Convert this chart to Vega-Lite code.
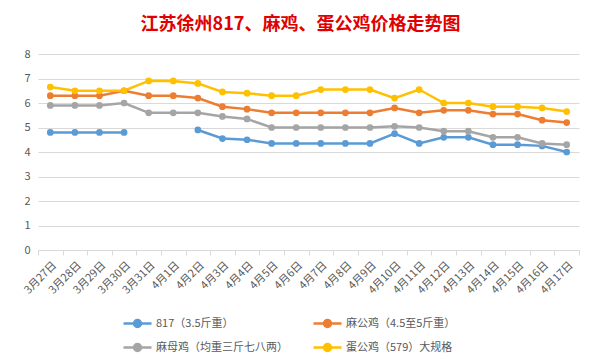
{
  "$schema": "https://vega.github.io/schema/vega-lite/v6.json",
  "width": 541,
  "height": 196,
  "autosize": {"type": "none"},
  "padding": {"left": 38, "top": 54, "right": 21, "bottom": 114},
  "title": {"text": "江苏徐州817、麻鸡、蛋公鸡价格走势图", "fontSize": 18, "fontWeight": "bold", "color": "#e00000", "anchor": "middle", "frame": "group", "offset": 14, "dx": -8, "font": "Noto Sans CJK SC"},
  "config": {"view": {"stroke": null}, "font": "Noto Sans CJK SC"},
  "data": {"values": [
    {"date":"3月27日","series":"817（3.5斤重）","price":4.8},
    {"date":"3月28日","series":"817（3.5斤重）","price":4.8},
    {"date":"3月29日","series":"817（3.5斤重）","price":4.8},
    {"date":"3月30日","series":"817（3.5斤重）","price":4.8},
    {"date":"3月31日","series":"817（3.5斤重）","price":null},
    {"date":"4月1日","series":"817（3.5斤重）","price":null},
    {"date":"4月2日","series":"817（3.5斤重）","price":4.9},
    {"date":"4月3日","series":"817（3.5斤重）","price":4.55},
    {"date":"4月4日","series":"817（3.5斤重）","price":4.5},
    {"date":"4月5日","series":"817（3.5斤重）","price":4.35},
    {"date":"4月6日","series":"817（3.5斤重）","price":4.35},
    {"date":"4月7日","series":"817（3.5斤重）","price":4.35},
    {"date":"4月8日","series":"817（3.5斤重）","price":4.35},
    {"date":"4月9日","series":"817（3.5斤重）","price":4.35},
    {"date":"4月10日","series":"817（3.5斤重）","price":4.75},
    {"date":"4月11日","series":"817（3.5斤重）","price":4.35},
    {"date":"4月12日","series":"817（3.5斤重）","price":4.6},
    {"date":"4月13日","series":"817（3.5斤重）","price":4.6},
    {"date":"4月14日","series":"817（3.5斤重）","price":4.3},
    {"date":"4月15日","series":"817（3.5斤重）","price":4.3},
    {"date":"4月16日","series":"817（3.5斤重）","price":4.25},
    {"date":"4月17日","series":"817（3.5斤重）","price":4.0},
    {"date":"3月27日","series":"麻公鸡（4.5至5斤重）","price":6.3},
    {"date":"3月28日","series":"麻公鸡（4.5至5斤重）","price":6.3},
    {"date":"3月29日","series":"麻公鸡（4.5至5斤重）","price":6.3},
    {"date":"3月30日","series":"麻公鸡（4.5至5斤重）","price":6.5},
    {"date":"3月31日","series":"麻公鸡（4.5至5斤重）","price":6.3},
    {"date":"4月1日","series":"麻公鸡（4.5至5斤重）","price":6.3},
    {"date":"4月2日","series":"麻公鸡（4.5至5斤重）","price":6.2},
    {"date":"4月3日","series":"麻公鸡（4.5至5斤重）","price":5.85},
    {"date":"4月4日","series":"麻公鸡（4.5至5斤重）","price":5.75},
    {"date":"4月5日","series":"麻公鸡（4.5至5斤重）","price":5.6},
    {"date":"4月6日","series":"麻公鸡（4.5至5斤重）","price":5.6},
    {"date":"4月7日","series":"麻公鸡（4.5至5斤重）","price":5.6},
    {"date":"4月8日","series":"麻公鸡（4.5至5斤重）","price":5.6},
    {"date":"4月9日","series":"麻公鸡（4.5至5斤重）","price":5.6},
    {"date":"4月10日","series":"麻公鸡（4.5至5斤重）","price":5.8},
    {"date":"4月11日","series":"麻公鸡（4.5至5斤重）","price":5.6},
    {"date":"4月12日","series":"麻公鸡（4.5至5斤重）","price":5.7},
    {"date":"4月13日","series":"麻公鸡（4.5至5斤重）","price":5.7},
    {"date":"4月14日","series":"麻公鸡（4.5至5斤重）","price":5.55},
    {"date":"4月15日","series":"麻公鸡（4.5至5斤重）","price":5.55},
    {"date":"4月16日","series":"麻公鸡（4.5至5斤重）","price":5.3},
    {"date":"4月17日","series":"麻公鸡（4.5至5斤重）","price":5.2},
    {"date":"3月27日","series":"麻母鸡（均重三斤七八两）","price":5.9},
    {"date":"3月28日","series":"麻母鸡（均重三斤七八两）","price":5.9},
    {"date":"3月29日","series":"麻母鸡（均重三斤七八两）","price":5.9},
    {"date":"3月30日","series":"麻母鸡（均重三斤七八两）","price":6.0},
    {"date":"3月31日","series":"麻母鸡（均重三斤七八两）","price":5.6},
    {"date":"4月1日","series":"麻母鸡（均重三斤七八两）","price":5.6},
    {"date":"4月2日","series":"麻母鸡（均重三斤七八两）","price":5.6},
    {"date":"4月3日","series":"麻母鸡（均重三斤七八两）","price":5.45},
    {"date":"4月4日","series":"麻母鸡（均重三斤七八两）","price":5.35},
    {"date":"4月5日","series":"麻母鸡（均重三斤七八两）","price":5.0},
    {"date":"4月6日","series":"麻母鸡（均重三斤七八两）","price":5.0},
    {"date":"4月7日","series":"麻母鸡（均重三斤七八两）","price":5.0},
    {"date":"4月8日","series":"麻母鸡（均重三斤七八两）","price":5.0},
    {"date":"4月9日","series":"麻母鸡（均重三斤七八两）","price":5.0},
    {"date":"4月10日","series":"麻母鸡（均重三斤七八两）","price":5.05},
    {"date":"4月11日","series":"麻母鸡（均重三斤七八两）","price":5.0},
    {"date":"4月12日","series":"麻母鸡（均重三斤七八两）","price":4.85},
    {"date":"4月13日","series":"麻母鸡（均重三斤七八两）","price":4.85},
    {"date":"4月14日","series":"麻母鸡（均重三斤七八两）","price":4.6},
    {"date":"4月15日","series":"麻母鸡（均重三斤七八两）","price":4.6},
    {"date":"4月16日","series":"麻母鸡（均重三斤七八两）","price":4.35},
    {"date":"4月17日","series":"麻母鸡（均重三斤七八两）","price":4.3},
    {"date":"3月27日","series":"蛋公鸡（579）大规格","price":6.65},
    {"date":"3月28日","series":"蛋公鸡（579）大规格","price":6.5},
    {"date":"3月29日","series":"蛋公鸡（579）大规格","price":6.5},
    {"date":"3月30日","series":"蛋公鸡（579）大规格","price":6.5},
    {"date":"3月31日","series":"蛋公鸡（579）大规格","price":6.9},
    {"date":"4月1日","series":"蛋公鸡（579）大规格","price":6.9},
    {"date":"4月2日","series":"蛋公鸡（579）大规格","price":6.8},
    {"date":"4月3日","series":"蛋公鸡（579）大规格","price":6.45},
    {"date":"4月4日","series":"蛋公鸡（579）大规格","price":6.4},
    {"date":"4月5日","series":"蛋公鸡（579）大规格","price":6.3},
    {"date":"4月6日","series":"蛋公鸡（579）大规格","price":6.3},
    {"date":"4月7日","series":"蛋公鸡（579）大规格","price":6.55},
    {"date":"4月8日","series":"蛋公鸡（579）大规格","price":6.55},
    {"date":"4月9日","series":"蛋公鸡（579）大规格","price":6.55},
    {"date":"4月10日","series":"蛋公鸡（579）大规格","price":6.2},
    {"date":"4月11日","series":"蛋公鸡（579）大规格","price":6.55},
    {"date":"4月12日","series":"蛋公鸡（579）大规格","price":6.0},
    {"date":"4月13日","series":"蛋公鸡（579）大规格","price":6.0},
    {"date":"4月14日","series":"蛋公鸡（579）大规格","price":5.85},
    {"date":"4月15日","series":"蛋公鸡（579）大规格","price":5.85},
    {"date":"4月16日","series":"蛋公鸡（579）大规格","price":5.8},
    {"date":"4月17日","series":"蛋公鸡（579）大规格","price":5.65}
  ]},
  "encoding": {
    "x": {"field": "date", "type": "ordinal", "sort": null,
      "scale": {"type": "band", "paddingInner": 0, "paddingOuter": 0},
      "axis": {"title": null, "labelAngle": -45, "labelColor": "#595959", "labelFontSize": 11, "domainColor": "#d9d9d9", "tickColor": "#d9d9d9", "tickBand": "extent", "tickSize": 5, "grid": false, "labelPadding": 4}},
    "y": {"field": "price", "type": "quantitative",
      "scale": {"domain": [0, 8], "nice": false},
      "axis": {"title": null, "values": [0,1,2,3,4,5,6,7,8], "gridColor": "#d9d9d9", "domain": false, "ticks": false, "labelColor": "#595959", "labelFontSize": 11, "labelPadding": 8}},
    "color": {"field": "series", "type": "nominal",
      "scale": {"domain": ["817（3.5斤重）", "麻公鸡（4.5至5斤重）", "麻母鸡（均重三斤七八两）", "蛋公鸡（579）大规格"], "range": ["#5B9BD5", "#ED7D31", "#A5A5A5", "#FFC000"]},
      "legend": {"title": null, "orient": "none", "legendX": 84, "legendY": 254, "columns": 2, "direction": "horizontal",
        "symbolType": "M-1,0L1,0M-0.25,0A0.25,0.25,0,1,1,0.25,0A0.25,0.25,0,1,1,-0.25,0Z",
        "symbolSize": 784, "symbolStrokeWidth": 2.5, "labelFontSize": 11, "labelColor": "#595959", "columnPadding": 20, "rowPadding": -9, "labelOffset": 3,
        "encode": {"symbols": {"update": {"fill": {"scale": "color", "field": "value"}, "stroke": {"scale": "color", "field": "value"}, "strokeWidth": {"value": 2.5}}}}}}
  },
  "layer": [
    {"mark": {"type": "line", "strokeWidth": 2.5, "invalid": "break-paths-show-domains"}},
    {"transform": [{"filter": "isValid(datum.price)"}], "mark": {"type": "point", "filled": true, "opacity": 1, "size": 45}}
  ]
}
